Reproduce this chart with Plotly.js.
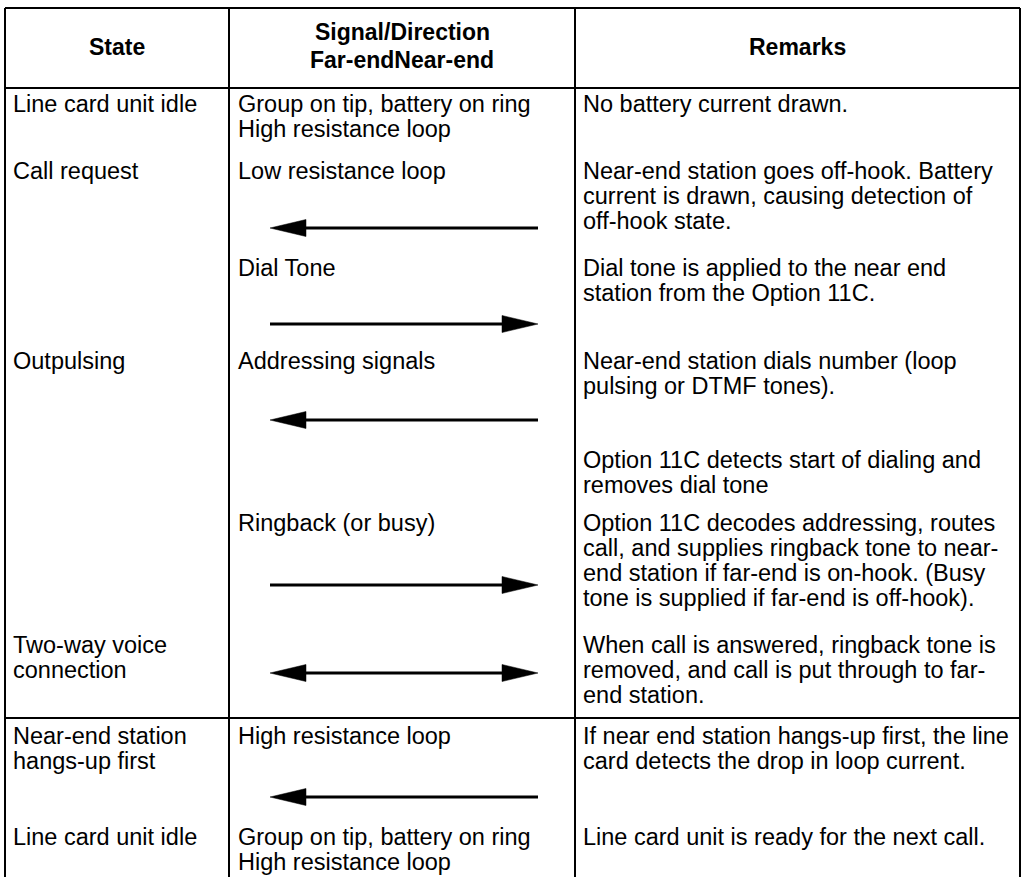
<!DOCTYPE html>
<html>
<head>
<meta charset="utf-8">
<script src="https://cdn.plot.ly/plotly-3.0.1.min.js"></script>
<style>
html,body{margin:0;padding:0;background:#fff;}
#chart{width:1023px;height:877px;}
</style>
</head>
<body>
<div id="chart"></div>
<script>
// ---- DATA ----
const headers = ["State", "Signal/Direction<br>Far-endNear-end", "Remarks"];
const stateText = [
  ["Line card unit idle"],
  ["Call request"],
  [],
  ["Outpulsing"],
  [],
  [],
  ["Two-way voice", "connection"],
  ["Near-end station", "hangs-up first"],
  ["Line card unit idle"]
];
const signalText = [
  ["Group on tip, battery on ring", "High resistance loop"],
  ["Low resistance loop"],
  ["Dial Tone"],
  ["Addressing signals"],
  [],
  ["Ringback (or busy)"],
  [],
  ["High resistance loop"],
  ["Group on tip, battery on ring", "High resistance loop"]
];
const remarkText = [
  ["No battery current drawn."],
  ["Near-end station goes off-hook. Battery", "current is drawn, causing detection of", "off-hook state."],
  ["Dial tone is applied to the near end", "station from the Option 11C."],
  ["Near-end station dials number (loop", "pulsing or DTMF tones)."],
  ["Option 11C detects start of dialing and", "removes dial tone"],
  ["Option 11C decodes addressing, routes", "call, and supplies ringback tone to near-", "end station if far-end is on-hook. (Busy", "tone is supplied if far-end is off-hook)."],
  ["When call is answered, ringback tone is", "removed, and call is put through to far-", "end station."],
  ["If near end station hangs-up first, the line", "card detects the drop in loop current."],
  ["Line card unit is ready for the next call."]
];
const arrowDir = ["", "left", "right", "left", "", "right", "both", "left", ""];

// ---- LAYOUT (pixel geometry) ----
const W = 1023, H = 877;
const rowTop = [104, 171, 268, 361, 460, 523, 645, 736, 837];
const arrowY = [null, 228, 324, 420, null, 585, 673, 797, null];
const lineGap = 25;
const colX = [11, 236, 581];
const xL = 5, xR = 1020, xC1 = 229, xC2 = 575, yTop = 8, yHead = 88, ySep = 718;
const fontFam = "Liberation Sans, Arial, Helvetica, sans-serif";
const fs = 23.5;

const shapes = [];
function seg(x0, y0, x1, y1, w) {
  shapes.push({type: "line", xref: "x", yref: "y", x0: x0, y0: y0, x1: x1, y1: y1,
    line: {color: "#000", width: w || 2}, layer: "above"});
}
seg(xL, yTop, xR, yTop);
seg(xL, yTop, xL, H + 5);
seg(xR, yTop, xR, H + 5);
seg(xC1, yTop, xC1, H + 5);
seg(xC2, yTop, xC2, H + 5);
seg(xL, yHead, xR, yHead);
seg(xL, ySep, xR, ySep);

const ax0 = 270, ax1 = 538, headLen = 36, headHalf = 8.5;
function head(tipX, baseX, y) {
  shapes.push({type: "path", xref: "x", yref: "y",
    path: `M ${tipX} ${y} L ${baseX} ${y - headHalf} L ${baseX} ${y + headHalf} Z`,
    fillcolor: "#000", line: {color: "#000", width: 0.5}});
}
arrowDir.forEach((d, i) => {
  if (!d) return;
  const y = arrowY[i];
  let s = ax0, e = ax1;
  if (d === "left" || d === "both") { head(ax0, ax0 + headLen, y); s = ax0 + headLen - 2; }
  if (d === "right" || d === "both") { head(ax1, ax1 - headLen, y); e = ax1 - headLen + 2; }
  seg(s, y, e, y, 3.2);
});

const annotations = [];
function txt(x, y, t, opts) {
  annotations.push(Object.assign({xref: "x", yref: "y", x: x, y: y, text: t, showarrow: false,
    xanchor: "left", yanchor: "middle", align: "left",
    font: {family: fontFam, size: fs, color: "#000"}}, opts || {}));
}
// headers
const hOpts = {xanchor: "center", align: "center", font: {family: fontFam, size: 23, color: "#000"}};
txt((xL + xC1) / 2, 47, "<b>" + headers[0] + "</b>", hOpts);
const hl = headers[1].split("<br>");
txt((xC1 + xC2) / 2, 32, "<b>" + hl[0] + "</b>", hOpts);
txt((xC1 + xC2) / 2, 60, "<b>" + hl[1] + "</b>", hOpts);
txt((xC2 + xR) / 2, 47, "<b>" + headers[2] + "</b>", hOpts);

[stateText, signalText, remarkText].forEach((col, c) => {
  col.forEach((lines, r) => {
    lines.forEach((ln, k) => txt(colX[c], rowTop[r] + k * lineGap, ln));
  });
});

const layout = {
  width: W, height: H,
  margin: {l: 0, r: 0, t: 0, b: 0},
  paper_bgcolor: "#fff", plot_bgcolor: "#fff",
  showlegend: false,
  xaxis: {range: [0, W], visible: false, fixedrange: true},
  yaxis: {range: [H, 0], visible: false, fixedrange: true},
  shapes: shapes,
  annotations: annotations
};
Plotly.newPlot("chart", [{x: [], y: [], type: "scatter", mode: "markers", hoverinfo: "skip"}], layout,
  {staticPlot: true, displayModeBar: false});
</script>
</body>
</html>
